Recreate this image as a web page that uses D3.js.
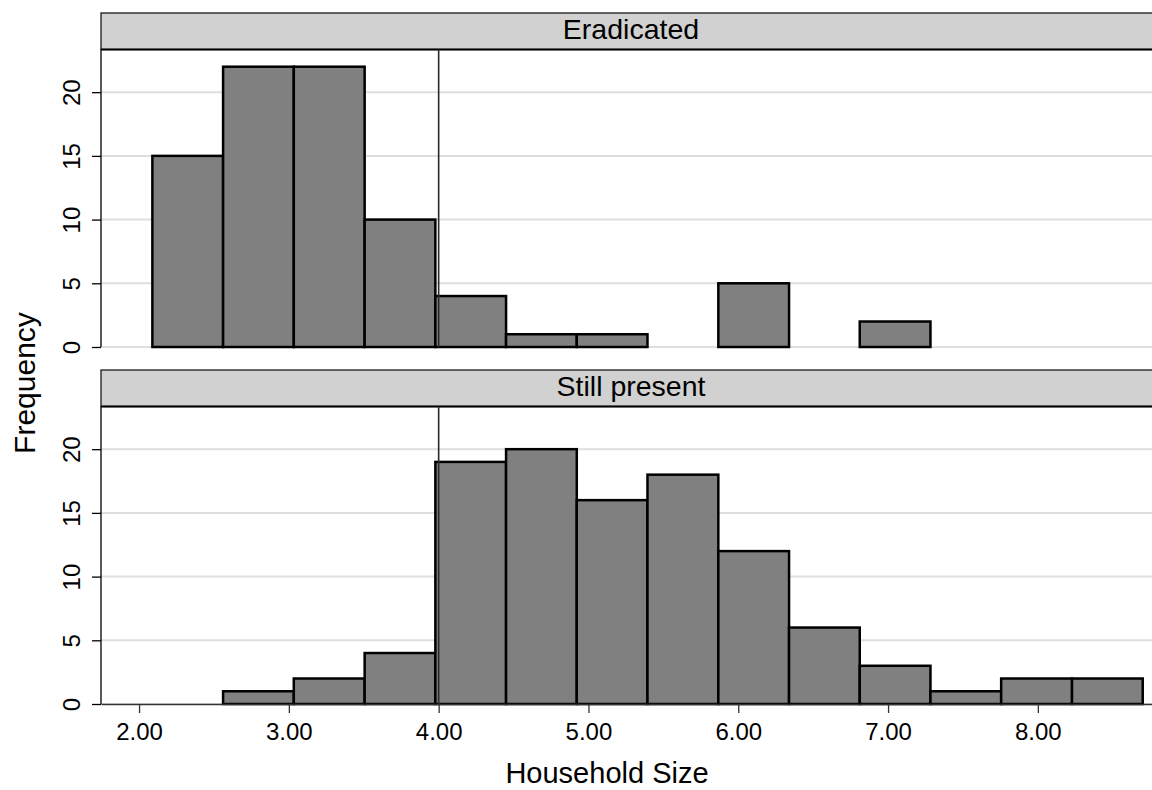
<!DOCTYPE html>
<html>
<head>
<meta charset="utf-8">
<script src="https://cdn.jsdelivr.net/npm/d3@7"></script>
<style>
  html, body { margin: 0; padding: 0; background: #fff; }
  svg { display: block; font-family: "Liberation Sans", Arial, sans-serif; }
</style>
</head>
<body>
<svg id="chart" width="1152" height="790"></svg>
<script>
// ---- Data ----
const panels = ["Eradicated", "Still present"];
const binEdges = [2.089, 2.561, 3.033, 3.506, 3.978, 4.450, 4.922, 5.394, 5.867, 6.339, 6.811, 7.283, 7.755, 8.228, 8.700];
const eradicatedCounts = [15, 22, 22, 10, 4, 1, 1, 0, 5, 0, 2, 0, 0, 0];
const stillPresentCounts = [0, 1, 2, 4, 19, 20, 16, 18, 12, 6, 3, 1, 2, 2];
const xTicks = [2, 3, 4, 5, 6, 7, 8];
const yTicks = [0, 5, 10, 15, 20];
const refLine = 4;
const xTitle = "Household Size";
const yTitle = "Frequency";

// ---- Layout ----
const svg = d3.select("#chart");
const left = 101, right = 1161;
const stripH = 36.5;
const panelTops = [49.5, 406.5];
const panelH = 297.5;

const x = d3.scaleLinear().domain([1.746, 8.822]).range([left, right]);
const font = "'Liberation Sans', Arial, sans-serif";

const seriesList = [eradicatedCounts, stillPresentCounts];

panels.forEach((name, pi) => {
  const top = panelTops[pi];
  const bottom = top + panelH;
  const y = d3.scaleLinear().domain([0, 23.35]).range([bottom, top]);
  const g = svg.append("g");

  // gridlines
  g.selectAll("line.grid").data(yTicks).enter().append("line")
    .attr("x1", left).attr("x2", right)
    .attr("y1", d => y(d)).attr("y2", d => y(d))
    .attr("stroke", "#dedede").attr("stroke-width", 2);

  // strip
  g.append("rect")
    .attr("x", left).attr("y", top - stripH)
    .attr("width", right - left + 10).attr("height", stripH)
    .attr("fill", "#d1d1d1").attr("stroke", "#1a1a1a").attr("stroke-width", 1.3);
  g.append("line")
    .attr("x1", left).attr("x2", right + 10)
    .attr("y1", top).attr("y2", top)
    .attr("stroke", "#000").attr("stroke-width", 2);
  g.append("text")
    .attr("x", (left + right) / 2).attr("y", top - 10.5)
    .attr("text-anchor", "middle")
    .attr("font-size", 28.5).attr("fill", "#000")
    .text(name);

  // bars
  const counts = seriesList[pi];
  const bins = counts.map((c, i) => ({ x0: binEdges[i], x1: binEdges[i + 1], c }))
    .filter(b => b.c > 0);
  g.selectAll("rect.bar").data(bins).enter().append("rect")
    .attr("x", d => x(d.x0)).attr("width", d => x(d.x1) - x(d.x0))
    .attr("y", d => y(d.c)).attr("height", d => y(0) - y(d.c))
    .attr("fill", "#808080").attr("stroke", "#000").attr("stroke-width", 2.5);

  // reference line
  g.append("line")
    .attr("x1", x(refLine)).attr("x2", x(refLine))
    .attr("y1", top).attr("y2", bottom)
    .attr("stroke", "#2a2a2a").attr("stroke-width", 1.6);

  // y axis
  const yAxis = g.append("g").attr("transform", `translate(${left},0)`)
    .call(d3.axisLeft(y).tickValues(yTicks).tickSize(9).tickPadding(0).tickSizeOuter(0));
  yAxis.select(".domain").attr("d", `M0,${top}V${bottom}`).attr("stroke", "#000").attr("stroke-width", 1.3);
  yAxis.selectAll(".tick line").attr("stroke", "#000").attr("stroke-width", 1.3);
  yAxis.selectAll(".tick text")
    .attr("x", null).attr("dy", null)
    .attr("transform", "translate(-21,0) rotate(-90)")
    .attr("text-anchor", "middle")
    .attr("font-family", font).attr("font-size", 24).attr("fill", "#000");

  // x axis on the bottom panel only
  if (pi === panels.length - 1) {
    const xAxis = g.append("g").attr("transform", `translate(0,${bottom})`)
      .call(d3.axisBottom(x).tickValues(xTicks).tickFormat(d3.format(".2f")).tickSize(9).tickPadding(10).tickSizeOuter(0));
    xAxis.select(".domain").attr("stroke", "#333").attr("stroke-width", 1.3);
    xAxis.selectAll(".tick line").attr("stroke", "#333").attr("stroke-width", 1.3);
    xAxis.selectAll(".tick text")
      .attr("font-family", font).attr("font-size", 24).attr("fill", "#000");
  }
});

// axis titles
svg.append("text")
  .attr("x", 607).attr("y", 783)
  .attr("text-anchor", "middle")
  .attr("font-size", 29).attr("fill", "#000")
  .text(xTitle);
svg.append("text")
  .attr("transform", "translate(35,383) rotate(-90)")
  .attr("text-anchor", "middle")
  .attr("font-size", 30).attr("fill", "#000")
  .text(yTitle);
</script>
</body>
</html>
